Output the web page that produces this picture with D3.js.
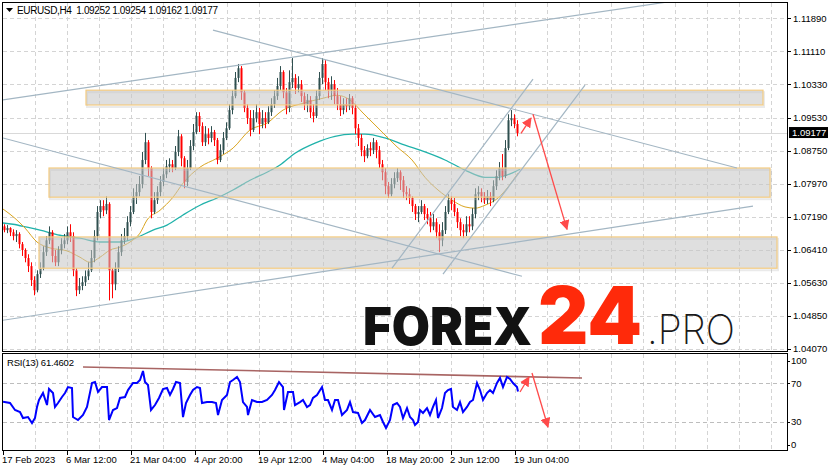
<!DOCTYPE html>
<html><head><meta charset="utf-8">
<script src="https://cdn.jsdelivr.net/npm/d3@7"></script>
<style>body{margin:0;background:#fff}svg{display:block}</style>
</head><body>
<svg id="c" width="833" height="472"></svg>
<script>
// ---------- DATA ----------
const symbolTitle = "EURUSD,H4  1.09252 1.09254 1.09162 1.09177";
const lastPrice = 1.09177;
const barsPerCandle = 3;          // each drawn candle groups three H4 bars
const firstOpen = 1.0697;
const closes = [
1.0688,1.0693,1.0683,1.0674,1.0679,1.0655,1.0641,1.0622,1.0603,1.0570,
1.0546,1.0584,1.0598,1.0636,1.0664,1.0683,1.0627,1.0612,1.0641,1.0655,
1.0664,1.0683,1.0674,1.0593,1.0546,1.0556,1.0565,1.0579,1.0593,1.0622,
1.0674,1.0731,1.0745,1.0735,1.0750,1.0593,1.0560,1.0598,1.0636,1.0664,
1.0674,1.0707,1.0731,1.0768,1.0778,1.0797,1.0854,1.0896,1.0835,1.0731,
1.0759,1.0778,1.0802,1.0820,1.0839,1.0844,1.0835,1.0873,1.0910,1.0858,
1.0802,1.0835,1.0887,1.0920,1.0958,1.0934,1.0896,1.0915,1.0906,1.0920,
1.0901,1.0854,1.0877,1.0906,1.0929,1.0972,1.1005,1.1048,1.1071,1.1014,
1.0977,1.0953,1.0925,1.0953,1.0967,1.0939,1.0953,1.0943,1.0967,1.0986,
1.1005,1.1029,1.1062,1.1014,1.0977,1.1038,1.1048,1.1024,1.1033,1.1005,
1.0986,1.0996,1.0967,1.0958,1.1005,1.1048,1.1081,1.1038,1.1019,1.1033,
1.1005,1.0986,1.0972,1.0986,1.0981,1.1000,1.0977,1.0929,1.0906,1.0877,
1.0863,1.0882,1.0877,1.0896,1.0877,1.0844,1.0825,1.0792,1.0773,1.0797,
1.0811,1.0825,1.0806,1.0778,1.0773,1.0764,1.0745,1.0726,1.0731,1.0745,
1.0726,1.0716,1.0697,1.0707,1.0683,1.0664,1.0688,1.0731,1.0759,1.0750,
1.0731,1.0707,1.0688,1.0683,1.0702,1.0697,1.0726,1.0773,1.0778,1.0768,
1.0759,1.0768,1.0759,1.0792,1.0816,1.0835,1.0816,1.0882,1.0948,1.0953,1.0939,1.09177];
const highs = [
1.0702,1.0700,1.0695,1.0690,1.0688,1.0683,1.0660,1.0645,1.0631,1.0612,
1.0579,1.0593,1.0612,1.0650,1.0674,1.0697,1.0688,1.0641,1.0650,1.0669,
1.0679,1.0697,1.0702,1.0683,1.0598,1.0575,1.0579,1.0593,1.0612,1.0641,
1.0688,1.0745,1.0759,1.0759,1.0768,1.0754,1.0598,1.0612,1.0650,1.0679,
1.0693,1.0721,1.0745,1.0787,1.0797,1.0816,1.0873,1.0918,1.0901,1.0839,
1.0778,1.0792,1.0816,1.0835,1.0854,1.0858,1.0854,1.0887,1.0925,1.0915,
1.0863,1.0854,1.0901,1.0939,1.0967,1.0967,1.0943,1.0934,1.0929,1.0934,
1.0925,1.0906,1.0891,1.0920,1.0943,1.0986,1.1019,1.1062,1.1081,1.1076,
1.1019,1.0986,1.0972,1.0972,1.0986,1.0977,1.0972,1.0967,1.0981,1.1000,
1.1019,1.1048,1.1076,1.1066,1.1024,1.1066,1.1095,1.1057,1.1052,1.1043,
1.1014,1.1010,1.1005,1.0986,1.1019,1.1062,1.1095,1.1090,1.1048,1.1052,
1.1043,1.1024,1.1005,1.1000,1.1000,1.1010,1.1005,1.0986,1.0939,1.0915,
1.0887,1.0891,1.0896,1.0906,1.0901,1.0887,1.0854,1.0835,1.0802,1.0811,
1.0825,1.0835,1.0830,1.0816,1.0792,1.0787,1.0768,1.0750,1.0745,1.0759,
1.0750,1.0740,1.0731,1.0726,1.0716,1.0702,1.0707,1.0745,1.0773,1.0768,
1.0764,1.0740,1.0716,1.0702,1.0721,1.0721,1.0740,1.0787,1.0792,1.0787,
1.0778,1.0783,1.0778,1.0806,1.0830,1.0849,1.0868,1.0901,1.0962,1.0972,1.0962,1.0948];
const lows = [
1.0683,1.0681,1.0674,1.0664,1.0660,1.0645,1.0627,1.0612,1.0589,1.0556,
1.0534,1.0541,1.0575,1.0593,1.0627,1.0655,1.0612,1.0603,1.0603,1.0631,
1.0645,1.0655,1.0660,1.0579,1.0532,1.0537,1.0546,1.0556,1.0570,1.0589,
1.0612,1.0664,1.0716,1.0721,1.0726,1.0522,1.0527,1.0546,1.0589,1.0627,
1.0655,1.0664,1.0697,1.0726,1.0750,1.0768,1.0787,1.0844,1.0816,1.0716,
1.0726,1.0750,1.0768,1.0792,1.0811,1.0825,1.0825,1.0830,1.0863,1.0839,
1.0787,1.0792,1.0830,1.0877,1.0915,1.0920,1.0887,1.0887,1.0891,1.0896,
1.0887,1.0844,1.0849,1.0868,1.0901,1.0925,1.0962,1.1000,1.1038,1.0996,
1.0967,1.0939,1.0910,1.0920,1.0943,1.0915,1.0929,1.0929,1.0939,1.0958,
1.0977,1.0996,1.1019,1.1000,1.0962,1.0967,1.1024,1.1010,1.1014,1.0991,
1.0972,1.0967,1.0953,1.0943,1.0953,1.0996,1.1033,1.1019,1.1000,1.0996,
1.0986,1.0972,1.0958,1.0962,1.0967,1.0972,1.0962,1.0915,1.0887,1.0863,
1.0849,1.0858,1.0863,1.0868,1.0858,1.0835,1.0806,1.0773,1.0764,1.0768,
1.0787,1.0802,1.0783,1.0764,1.0759,1.0750,1.0731,1.0712,1.0707,1.0726,
1.0712,1.0702,1.0683,1.0688,1.0669,1.0636,1.0650,1.0679,1.0726,1.0735,
1.0721,1.0693,1.0674,1.0669,1.0674,1.0683,1.0688,1.0716,1.0759,1.0754,
1.0750,1.0750,1.0745,1.0754,1.0783,1.0806,1.0806,1.0811,1.0877,1.0934,1.0929,1.0910];

// moving averages (bar index, price)
const maFastIdx = [0,12,22,34,47,64,77,87,97,107,117,127,137,144,157,170,180,197,214,230,247,264,280,300,320,334,347,360,377,394,409,422,435,449,462,472,482,495,505,515];
const maFastVal = [1.0738,1.0716,1.0693,1.0660,1.0646,1.0639,1.0624,1.0612,1.0624,1.0641,1.0648,1.0660,1.0681,1.0712,1.0735,1.0766,1.0799,1.0837,1.0858,1.0882,1.0925,1.0941,1.0972,1.0988,1.1000,1.1007,1.0996,1.0965,1.0925,1.0885,1.0854,1.0813,1.0783,1.0759,1.0743,1.0740,1.0747,1.0764,1.0790,1.0823];
const maSlowIdx = [0,10,24,37,57,77,97,117,132,150,164,180,197,214,230,247,264,277,292,312,332,349,362,382,402,422,442,462,482,495,509,517];
const maSlowVal = [1.0705,1.0702,1.0695,1.0688,1.0676,1.0669,1.0660,1.0660,1.0669,1.0688,1.0700,1.0724,1.0747,1.0764,1.0783,1.0806,1.0825,1.0842,1.0870,1.0894,1.0910,1.0915,1.0915,1.0906,1.0889,1.0873,1.0854,1.0830,1.0813,1.0813,1.0823,1.0832];

// RSI(13) readings (bar index, value)
const rsiIdx = [0,7,12,17,20,25,29,32,34,36,40,44,46,50,52,55,59,62,65,69,70,75,80,84,89,92,95,99,104,106,110,114,117,122,125,130,134,137,140,142,145,148,152,156,160,164,167,170,173,177,180,183,187,190,194,197,199,204,209,213,215,219,224,227,230,234,237,240,244,245,249,254,259,264,269,272,276,280,281,285,290,292,297,300,304,307,310,314,319,322,325,329,332,335,339,344,347,350,355,359,362,367,372,377,380,383,387,390,394,397,400,404,407,410,412,415,417,420,424,427,430,433,435,439,442,445,448,450,454,457,460,464,467,470,474,477,480,484,487,490,494,497,500,504,507,510,514,515];
const rsiVal = [51.0,49.6,42.4,40.3,34.1,35.1,28.9,34.1,45.5,52.7,59.9,47.5,64.1,59.9,45.5,49.6,55.8,59.9,66.1,65.1,35.1,32.0,37.2,45.5,70.3,71.3,61.0,66.1,66.1,32.0,42.4,44.4,54.8,55.8,63.0,70.3,70.3,73.4,82.7,71.3,68.2,42.4,47.5,54.8,64.1,65.1,57.9,64.1,71.3,70.3,35.1,49.6,57.9,63.0,66.1,65.1,49.6,50.6,50.6,49.6,37.2,52.7,57.9,71.3,73.4,76.5,71.3,50.6,45.5,37.2,52.7,50.6,50.6,52.7,57.9,63.0,71.3,66.1,42.4,61.0,61.0,47.5,50.6,52.7,45.5,47.5,54.8,57.9,66.1,52.7,52.7,42.4,52.7,52.7,37.2,42.4,50.6,40.3,39.3,28.9,32.0,42.4,35.1,37.2,30.0,23.8,32.0,47.5,49.6,45.5,34.1,44.4,35.1,32.0,26.9,30.0,42.4,39.3,44.4,37.2,45.5,52.7,34.1,44.4,59.9,63.0,64.1,45.5,42.4,50.6,40.3,45.5,50.6,52.7,70.3,63.0,52.7,59.9,63.0,59.9,70.3,75.5,66.1,76.5,74.4,70.3,66.1,61.5];
const rsiLabel = "RSI(13) 61.4602";

// axis ticks
const priceTicks = [1.11890,1.11110,1.10330,1.09530,1.08750,1.07970,1.07190,1.06410,1.05630,1.04850,1.04070];
const rsiTicks = [100,70,30,0];
const rsiLevels = [70,30];
const timeTickIdx = [0,64,128,192,256,320,384,448,512];
const timeTickLabels = ["17 Feb 2023","6 Mar 12:00","21 Mar 04:00","4 Apr 20:00","19 Apr 12:00","4 May 04:00","18 May 20:00","2 Jun 12:00","19 Jun 04:00"];

// drawn objects (bar index / price)
const zoneStart = [83,46,36], zoneEnd = [760,767,774];
const zoneTop = [1.1019,1.0835,1.0672], zoneBottom = [1.0984,1.0766,1.0598];
const trendStartIdx = [0,210,0,0,389,440], trendStartPrice = [1.0996,1.1161,1.0906,1.0475,1.0598,1.0584];
const trendEndIdx = [700,734,519,750,530,582], trendEndPrice = [1.1240,1.0835,1.0579,1.0745,1.1045,1.1031];
const arrowStartIdx = [518,530], arrowStartPrice = [1.0917,1.0962];
const arrowEndIdx = [528,564], arrowEndPrice = [1.0953,1.0690];
const rsiArrowStartIdx = [517,529], rsiArrowStartVal = [61,80.6];
const rsiArrowEndIdx = [526,545], rsiArrowEndVal = [76.5,24.8];
const rsiTrendIdx = [80,579], rsiTrendVal = [86.8,75.5];

// ---------- DRAWING ----------
const svg = d3.select("#c");
const FONT = "'Liberation Sans', Arial, sans-serif";
const x = d3.scaleLinear().domain([0,784]).range([3,787]);
const y = d3.scaleLinear().domain([1.0407,1.1189]).range([349,18.3]);
const yr = d3.scaleLinear().domain([0,100]).range([451,354.25]);

const defs = svg.append("defs");
defs.append("clipPath").attr("id","clipMain").append("rect").attr("x",3).attr("y",3).attr("width",784).attr("height",348);
defs.append("clipPath").attr("id","clipRsi").append("rect").attr("x",3).attr("y",354).attr("width",784).attr("height",96);
function mk(id,color){
  defs.append("marker").attr("id",id).attr("viewBox","0 0 10 10").attr("refX",9).attr("refY",5)
    .attr("markerWidth",10).attr("markerHeight",10).attr("markerUnits","userSpaceOnUse").attr("orient","auto")
    .append("path").attr("d","M0,0L10,5L0,10z").attr("fill",color);
}
mk("arr","#ff4a4a");

svg.append("rect").attr("width",833).attr("height",472).attr("fill","#fff");

const gm = svg.append("g").attr("clip-path","url(#clipMain)");
const gr = svg.append("g").attr("clip-path","url(#clipRsi)");
const gridColor = "#d4d4d4";

// vertical grid
const vGrid = d3.range(32,784,32);
[gm,gr].forEach((g,i)=>{
  g.selectAll(null).data(vGrid).join("line")
    .attr("x1",d=>Math.round(x(d))+0.5).attr("x2",d=>Math.round(x(d))+0.5)
    .attr("y1",i?354:3).attr("y2",i?451:351)
    .attr("stroke",gridColor).attr("stroke-dasharray","4,3");
});
gm.selectAll(null).data(priceTicks).join("line")
  .attr("x1",3).attr("x2",787).attr("y1",d=>Math.round(y(d))+0.5).attr("y2",d=>Math.round(y(d))+0.5)
  .attr("stroke",gridColor).attr("stroke-dasharray","4,3");
gr.selectAll(null).data(rsiLevels).join("line")
  .attr("x1",3).attr("x2",787).attr("y1",d=>Math.round(yr(d))+0.5).attr("y2",d=>Math.round(yr(d))+0.5)
  .attr("stroke","#bdbdbd").attr("stroke-dasharray","4,3");
// current price line
gm.append("line").attr("x1",3).attr("x2",787)
  .attr("y1",Math.round(y(lastPrice))+0.5).attr("y2",Math.round(y(lastPrice))+0.5)
  .attr("stroke","#d9d9d9");

// watermark
const wm = svg.append("g");
wm.append("text").attr("x",363).attr("y",345).attr("font-family","Inter, Lato, sans-serif")
  .attr("font-weight",900).attr("font-size",52).attr("fill","#121212").attr("textLength",169)
  .attr("lengthAdjust","spacingAndGlyphs").text("FOREX");
wm.append("text").attr("x",538).attr("y",344).attr("font-family","Inter, Lato, sans-serif")
  .attr("font-weight",900).attr("font-size",80).attr("fill","#ff2a0a").attr("textLength",104)
  .attr("lengthAdjust","spacingAndGlyphs").text("24");
wm.append("text").attr("x",647).attr("y",344).attr("font-family","Inter, Lato, sans-serif")
  .attr("font-weight",200).attr("font-size",41).attr("fill","#1a1a1a").attr("textLength",88)
  .attr("lengthAdjust","spacingAndGlyphs").text(".PRO");

// moving averages
const lineMain = d3.line().x(d=>x(d[0])).y(d=>y(d[1])).curve(d3.curveMonotoneX);
gm.append("path").datum(maSlowIdx.map((d,i)=>[d,maSlowVal[i]])).attr("d",lineMain)
  .attr("fill","none").attr("stroke","#20b2aa").attr("stroke-width",1.3);
gm.append("path").datum(maFastIdx.map((d,i)=>[d,maFastVal[i]])).attr("d",lineMain)
  .attr("fill","none").attr("stroke","#daa520").attr("stroke-width",1);

// candles
const candles = closes.map((c,i)=>({i, o: i? closes[i-1] : firstOpen, h: highs[i], l: lows[i], c}));
const cx = d => x(d.i*barsPerCandle + 1);
const cg = gm.append("g");
cg.selectAll(null).data(candles).join("line")
  .attr("x1",d=>Math.round(cx(d))+0.5).attr("x2",d=>Math.round(cx(d))+0.5)
  .attr("y1",d=>y(d.h)).attr("y2",d=>y(d.l))
  .attr("stroke",d=>d.c>=d.o?"#2f4f4f":"#ff0000");
cg.selectAll(null).data(candles).join("rect")
  .attr("x",d=>Math.round(cx(d))-0.5).attr("width",2)
  .attr("y",d=>y(Math.max(d.o,d.c))).attr("height",d=>Math.max(1,Math.abs(y(d.o)-y(d.c))))
  .attr("fill",d=>d.c>=d.o?"#2f4f4f":"#ff0000");

// zones
const zones = zoneStart.map((s,i)=>({s,e:zoneEnd[i],t:zoneTop[i],b:zoneBottom[i]}));
gm.selectAll(null).data(zones).join("rect")
  .attr("x",d=>x(d.s)+1).attr("y",d=>y(d.t)+2).attr("width",d=>x(d.e)-x(d.s)).attr("height",d=>y(d.b)-y(d.t))
  .attr("fill","none").attr("stroke","#b8b8b8").attr("stroke-width",2).attr("opacity",0.3);
gm.selectAll(null).data(zones).join("rect")
  .attr("x",d=>x(d.s)).attr("y",d=>y(d.t)).attr("width",d=>x(d.e)-x(d.s)).attr("height",d=>y(d.b)-y(d.t))
  .attr("fill","#c4c4c4").attr("fill-opacity",0.55).attr("stroke","#f4cb80").attr("stroke-width",1.2);

// trend lines
gm.selectAll(null).data(trendStartIdx.map((d,i)=>i)).join("line")
  .attr("x1",i=>x(trendStartIdx[i])).attr("y1",i=>y(trendStartPrice[i]))
  .attr("x2",i=>x(trendEndIdx[i])).attr("y2",i=>y(trendEndPrice[i]))
  .attr("stroke","#a3b6c3").attr("stroke-width",1.2);

// arrows main
gm.selectAll(null).data(arrowStartIdx.map((d,i)=>i)).join("line")
  .attr("x1",i=>x(arrowStartIdx[i])).attr("y1",i=>y(arrowStartPrice[i]))
  .attr("x2",i=>x(arrowEndIdx[i])).attr("y2",i=>y(arrowEndPrice[i]))
  .attr("stroke","#ff4a4a").attr("stroke-width",1.3).attr("marker-end","url(#arr)");

// RSI
gr.append("line").attr("x1",x(rsiTrendIdx[0])).attr("y1",yr(rsiTrendVal[0]))
  .attr("x2",x(rsiTrendIdx[1])).attr("y2",yr(rsiTrendVal[1]))
  .attr("stroke","#9a4a48").attr("stroke-width",1.6).attr("opacity",0.85);
gr.append("path").datum(rsiIdx.map((d,i)=>[d,rsiVal[i]]))
  .attr("d",d3.line().x(d=>x(d[0])).y(d=>yr(d[1])))
  .attr("fill","none").attr("stroke","#0000ff").attr("stroke-width",2);
gr.selectAll(null).data(rsiArrowStartIdx.map((d,i)=>i)).join("line")
  .attr("x1",i=>x(rsiArrowStartIdx[i])).attr("y1",i=>yr(rsiArrowStartVal[i]))
  .attr("x2",i=>x(rsiArrowEndIdx[i])).attr("y2",i=>yr(rsiArrowEndVal[i]))
  .attr("stroke","#ff4a4a").attr("stroke-width",1.3).attr("marker-end","url(#arr)");

// frames
const fr = svg.append("g").attr("fill","none").attr("stroke","#000");
fr.append("rect").attr("x",2.5).attr("y",2.5).attr("width",785).attr("height",349);
fr.append("rect").attr("x",2.5).attr("y",353.5).attr("width",785).attr("height",97);

// right price axis
const ax = svg.append("g").attr("font-family",FONT).attr("font-size",9.5).attr("fill","#000");
ax.selectAll(null).data(priceTicks).join("line")
  .attr("x1",787).attr("x2",791).attr("y1",d=>Math.round(y(d))+0.5).attr("y2",d=>Math.round(y(d))+0.5).attr("stroke","#000");
ax.selectAll(null).data(priceTicks).join("text")
  .attr("x",793).attr("y",d=>y(d)).attr("dy","0.35em").text(d=>d.toFixed(5));
ax.append("rect").attr("x",789).attr("y",y(lastPrice)-6).attr("width",39).attr("height",11).attr("fill","#000");
ax.append("text").attr("x",792).attr("y",y(lastPrice)).attr("dy","0.35em").attr("fill","#fff").text(lastPrice.toFixed(5));

// RSI axis
const rsiLabelY = v => v===100 ? yr(v)+6.5 : v===0 ? yr(v)-6.5 : yr(v);
ax.selectAll(null).data(rsiTicks).join("line")
  .attr("x1",787).attr("x2",790).attr("y1",d=>Math.round(rsiLabelY(d))+0.5).attr("y2",d=>Math.round(rsiLabelY(d))+0.5).attr("stroke","#000");
ax.selectAll(null).data(rsiTicks).join("text")
  .attr("x",791).attr("y",d=>rsiLabelY(d)).attr("dy","0.35em").text(d=>d);

// time axis
ax.selectAll(null).data(timeTickIdx).join("line")
  .attr("x1",d=>Math.round(x(d))+0.5).attr("x2",d=>Math.round(x(d))+0.5).attr("y1",451).attr("y2",455).attr("stroke","#000");
ax.selectAll(null).data(timeTickIdx).join("text")
  .attr("x",d=>x(d)-1).attr("y",460).attr("dy","0.35em").text((d,i)=>timeTickLabels[i]);

// title & rsi label
ax.append("path").attr("d","M6,8L13,8L9.5,12z").attr("fill","#000");
ax.append("text").attr("x",17).attr("y",10.5).attr("dy","0.35em").attr("font-size",10)
  .attr("textLength",201).attr("lengthAdjust","spacing").attr("xml:space","preserve").text(symbolTitle);
ax.append("text").attr("x",7).attr("y",363).attr("dy","0.35em").attr("textLength",67).text(rsiLabel);
</script>
</body></html>
